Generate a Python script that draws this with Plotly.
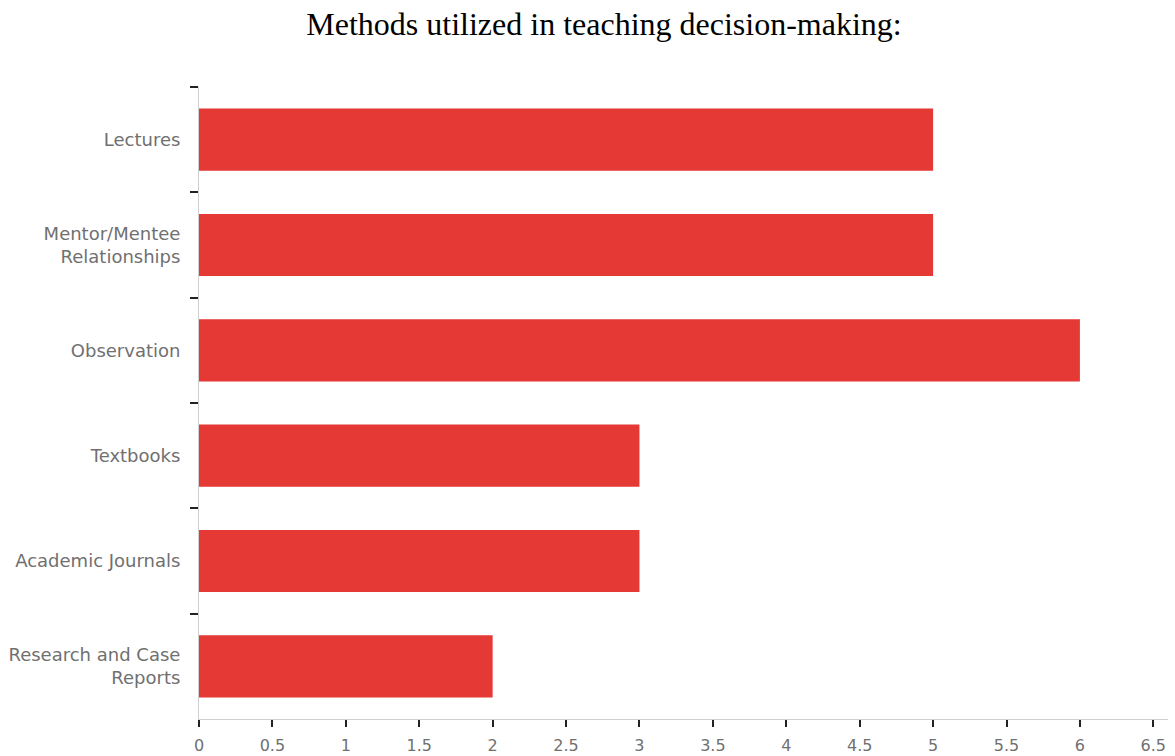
import plotly.graph_objects as go

categories = ["Lectures", "Mentor/Mentee<br>Relationships", "Observation", "Textbooks",
              "Academic Journals", "Research and Case<br>Reports"]
values = [5, 5, 6, 3, 3, 2]
x_ticks = [0, 0.5, 1, 1.5, 2, 2.5, 3, 3.5, 4, 4.5, 5, 5.5, 6, 6.5]
x_tick_labels = ["0", "0.5", "1", "1.5", "2", "2.5", "3", "3.5", "4", "4.5", "5", "5.5", "6", "6.5"]
title_text = "Methods utilized in teaching decision-making:"

fig = go.Figure(go.Bar(
    x=values, y=categories, orientation="h",
    marker=dict(color="#E43935", line=dict(width=0)),
))

fig.update_layout(
    width=1175, height=756,
    margin=dict(l=199, r=7, t=87, b=37),
    paper_bgcolor="white", plot_bgcolor="white",
    bargap=0.41,
    showlegend=False,
    title=dict(text=title_text, x=604/1175, xref="container", xanchor="center",
               y=1 - 24/756, yref="container", yanchor="middle",
               font=dict(family="Liberation Serif", size=32, color="black")),
)

fig.update_xaxes(
    range=[0, 6.6], tickvals=x_ticks, ticktext=x_tick_labels,
    automargin=False,
    showgrid=False, zeroline=False,
    showline=True, linecolor="#d0d0d0", linewidth=1,
    ticks="outside", ticklen=7, tickwidth=2, tickcolor="#222",
    ticklabelstandoff=5,
    tickfont=dict(family="DejaVu Sans", size=16, color="#707070"),
)
fig.update_yaxes(
    categoryorder="array", categoryarray=categories, autorange="reversed",
    automargin=False,
    showgrid=False, zeroline=False,
    showline=True, linecolor="#d0d0d0", linewidth=1,
    ticks="outside", tickson="boundaries", ticklen=8, tickwidth=2, tickcolor="#222",
    ticklabelstandoff=14,
    tickfont=dict(family="DejaVu Sans", size=18, color="#707070"),
)

fig.write_html("out.html")
